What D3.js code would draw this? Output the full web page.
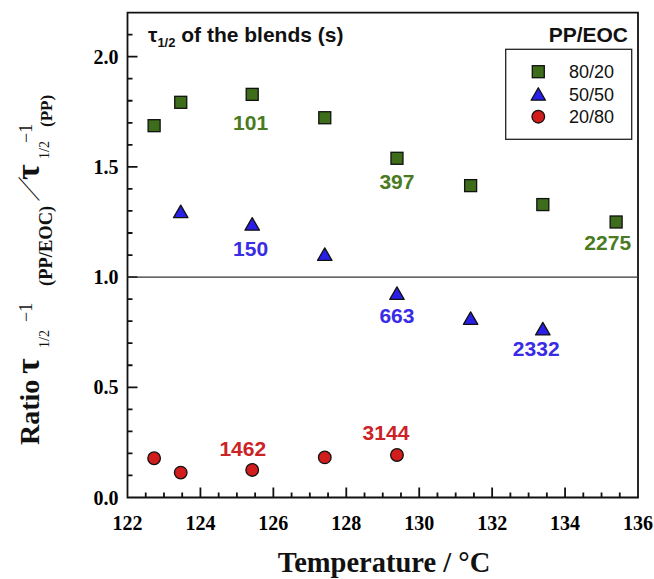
<!DOCTYPE html>
<html><head><meta charset="utf-8">
<script src="https://cdn.jsdelivr.net/npm/d3@7"></script>
<style>body{margin:0;background:#fff} svg{display:block}</style>
</head><body>
<svg id="chart" width="654" height="579"></svg>
<script>
// ---------- data ----------
const seriesNames = ["80/20", "50/50", "20/80"];
const temps8020 = [122.73, 123.46, 125.42, 127.41, 129.39, 131.41, 133.39, 135.40];
const ratio8020 = [1.687, 1.793, 1.829, 1.723, 1.539, 1.415, 1.329, 1.250];
const temps5050 = [123.46, 125.42, 127.41, 129.39, 131.41, 133.39];
const ratio5050 = [1.297, 1.240, 1.103, 0.926, 0.813, 0.765];
const temps2080 = [122.73, 123.46, 125.42, 127.41, 129.39];
const ratio2080 = [0.178, 0.113, 0.125, 0.182, 0.193];
const xTicks = [122, 124, 126, 128, 130, 132, 134, 136];
const yTicks = [0.0, 0.5, 1.0, 1.5, 2.0];
const xMinorTicks = d3.range(122, 136.01, 0.5);
const yMinorTicks = d3.range(0, 2.201, 0.1);
// half-time annotations (s): series index, point index, text
const annotSeries = [0, 0, 0, 1, 1, 1, 2, 2];
const annotPoint  = [2, 4, 7, 1, 3, 5, 2, 4];
const annotText   = ["101", "397", "2275", "150", "663", "2332", "1462", "3144"];

// ---------- layout / style ----------
const annotOffset = [[-1.6, 28.4], [0, 23.4], [-8.4, 20.7], [-1.6, 24], [0, 21.7], [-6.6, 19.3], [-9.4, -21.7], [-11, -22.3]];
const fill   = ["#3d6c1b", "#2a1fe6", "#d21d1d"];
const tcol   = ["#4a7b22", "#3a2be6", "#cc2327"];
const serif = "'Liberation Serif','Times New Roman',serif";
const sans  = "'Liberation Sans',Arial,sans-serif";

const L = 127.5, R = 638, T = 12.6, B = 497.5;
const svg = d3.select("#chart");

const x = d3.scaleLinear().domain([122, 136]).range([L, R]);
const y = d3.scaleLinear().domain([0, 2.2]).range([B, T]);

const series = [
  {name: seriesNames[0], t: temps8020, v: ratio8020, shape: "square"},
  {name: seriesNames[1], t: temps5050, v: ratio5050, shape: "triangle"},
  {name: seriesNames[2], t: temps2080, v: ratio2080, shape: "circle"}
];

// frame + inward ticks in one path, positions from the scales
const isMajorX = d => xTicks.some(v => Math.abs(v - d) < 1e-6);
const isMajorY = d => yTicks.some(v => Math.abs(v - d) < 1e-6);
const p = d3.path();
p.rect(L, T, R - L, B - T);
xMinorTicks.forEach(d => { p.moveTo(x(d), B); p.lineTo(x(d), B - (isMajorX(d) ? 10 : 5)); });
yMinorTicks.forEach(d => { p.moveTo(L, y(d)); p.lineTo(L + (isMajorY(d) ? 10 : 5), y(d)); });
svg.append("path").attr("d", p.toString()).attr("fill", "none")
  .attr("stroke", "#111").attr("stroke-width", 1.8);

// tick labels
svg.append("g").selectAll("text").data(xTicks).join("text")
  .attr("x", d => x(d)).attr("y", 529.5).attr("text-anchor", "middle")
  .attr("font-family", serif).attr("font-weight", "bold").attr("font-size", 20).attr("fill", "#000")
  .text(d => String(d));
svg.append("g").selectAll("text").data(yTicks).join("text")
  .attr("x", 118.5).attr("y", d => y(d)).attr("dy", "0.36em").attr("text-anchor", "end")
  .attr("font-family", serif).attr("font-weight", "bold").attr("font-size", 20).attr("fill", "#000")
  .text(d => d.toFixed(1));

// reference line at ratio 1
svg.append("line").attr("x1", L).attr("x2", R).attr("y1", y(1)).attr("y2", y(1))
  .attr("stroke", "#333").attr("stroke-width", 1.2);

// markers
function drawShape(g, shape, color) {
  if (shape === "square") {
    g.append("rect").attr("x", -6).attr("y", -6).attr("width", 12).attr("height", 12)
      .attr("fill", color).attr("stroke", "#111").attr("stroke-width", 1.3);
  } else if (shape === "triangle") {
    g.append("path").attr("d", "M0,-6.5L7.2,6L-7.2,6Z")
      .attr("fill", color).attr("stroke", "#111").attr("stroke-width", 1.3).attr("stroke-linejoin", "round");
  } else {
    g.append("circle").attr("r", 6.3)
      .attr("fill", color).attr("stroke", "#111").attr("stroke-width", 1.3);
  }
}
series.forEach((s, i) => {
  const gs = svg.append("g");
  s.t.forEach((t, j) => {
    const g = gs.append("g").attr("transform", `translate(${x(t)},${y(s.v[j])})`);
    drawShape(g, s.shape, fill[i]);
  });
});

// annotations
annotText.forEach((txt, k) => {
  const s = series[annotSeries[k]], pi = annotPoint[k];
  svg.append("text")
    .attr("x", x(s.t[pi]) + annotOffset[k][0])
    .attr("y", y(s.v[pi]) + annotOffset[k][1])
    .attr("dy", "0.36em").attr("text-anchor", "middle")
    .attr("font-family", sans).attr("font-weight", "bold").attr("font-size", 21)
    .attr("fill", tcol[annotSeries[k]]).text(txt);
});

// top-left title
const tt = svg.append("text").attr("x", 148).attr("y", 41.7)
  .attr("font-family", sans).attr("font-weight", "bold").attr("font-size", 21).attr("fill", "#111");
tt.append("tspan").text("τ");
tt.append("tspan").attr("font-size", 13).attr("dy", 5).text("1/2");
tt.append("tspan").attr("dy", -5).text(" of the blends (s)");

// legend
svg.append("text").attr("x", 628).attr("y", 41.7).attr("text-anchor", "end")
  .attr("font-family", sans).attr("font-weight", "bold").attr("font-size", 21).attr("fill", "#111")
  .text("PP/EOC");
svg.append("rect").attr("x", 505.7).attr("y", 49.3).attr("width", 126).attr("height", 90)
  .attr("fill", "#fff").attr("stroke", "#222").attr("stroke-width", 1.3);
series.forEach((s, i) => {
  const yy = 71.7 + i * 22.5;
  const g = svg.append("g").attr("transform", `translate(538.3,${yy})`);
  drawShape(g, s.shape, fill[i]);
  svg.append("text").attr("x", 569).attr("y", yy).attr("dy", "0.36em")
    .attr("font-family", sans).attr("font-size", 18).attr("fill", "#111").text(s.name);
});

// x title
svg.append("text").attr("x", 384).attr("y", 572).attr("text-anchor", "middle")
  .attr("font-family", serif).attr("font-weight", "bold").attr("font-size", 28.5).attr("fill", "#111")
  .text("Temperature / °C");

// y title (rotated, built from pieces)
const Y0 = 445;
const yl = svg.append("g").attr("transform", `translate(38.5,${Y0}) rotate(-90)`)
  .attr("font-family", serif).attr("fill", "#111");
function piece(txt, along, base, size, weight) {
  return yl.append("text").attr("x", along).attr("y", base).attr("font-size", size)
    .attr("font-weight", weight).text(txt);
}
piece("Ratio", 0, 0, 28, "bold");
piece("τ", 71, 0, 34, "bold");
piece("1/2", 97, 10, 14, "normal");
piece("−1", 123, -7, 18, "normal");
piece("(PP/EOC)", 159, 13, 18.5, "bold");
yl.append("text").attr("transform", "translate(244,0) skewX(-38)")
  .attr("font-size", 31).attr("font-weight", "normal").text("/");
piece("τ", 265, 0, 34, "bold");
piece("1/2", 286, 10, 14, "normal");
piece("−1", 302, -7, 18, "normal");
piece("(PP)", 318, 13, 17, "bold");
</script>
</body></html>
